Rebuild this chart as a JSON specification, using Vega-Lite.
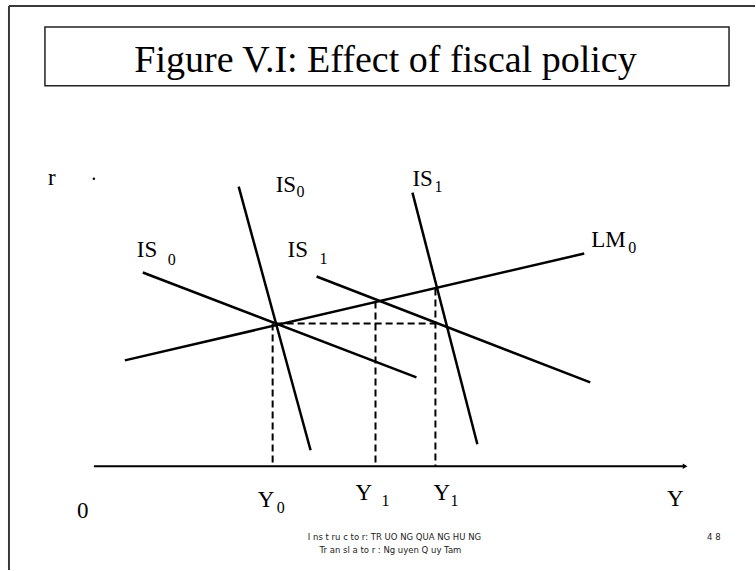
{
  "$schema": "https://vega.github.io/schema/vega-lite/v6.json",
  "width": 756,
  "height": 571,
  "autosize": {"type": "fit", "contains": "padding"},
  "padding": 0,
  "background": "white",
  "config": {"view": {"stroke": null}},
  "datasets": {
    "frame": [
      {"part": "top", "x": -86, "y": 461, "x2": 661, "y2": 461},
      {"part": "left", "x": -86, "y": 461, "x2": -86, "y2": -104}
    ],
    "titlebox": [{"x": -50, "y": 440, "x2": 635, "y2": 381}],
    "title": [{"text": "Figure V.I: Effect of fiscal policy", "x": 291, "y": 395}],
    "curves": [
      {"curve": "IS0 steep", "x": 144, "y": 280, "x2": 216, "y2": 16},
      {"curve": "IS1 steep", "x": 318, "y": 274, "x2": 383, "y2": 22},
      {"curve": "LM0", "x": 30, "y": 106, "x2": 490, "y2": 213},
      {"curve": "IS0 flat", "x": 48, "y": 194, "x2": 322, "y2": 89},
      {"curve": "IS1 flat", "x": 222, "y": 190, "x2": 496, "y2": 84}
    ],
    "guides": [
      {"guide": "r0", "x": 181, "y": 143, "x2": 342, "y2": 143},
      {"guide": "Y0", "x": 178, "y": 143, "x2": 178, "y2": 0},
      {"guide": "Y1a", "x": 281, "y": 165, "x2": 281, "y2": 0},
      {"guide": "Y1b", "x": 341, "y": 178, "x2": 341, "y2": 0}
    ],
    "axis": [{"x": -1, "y": 0, "x2": 590, "y2": 0}],
    "arrow": [{"x": 591, "y": 0}],
    "dot": [{"x": -1, "y": 288}],
    "labels": [
      {"text": "r", "x": -47, "y": 282},
      {"text": "IS", "x": 181, "y": 275},
      {"text": "IS", "x": 42, "y": 210},
      {"text": "IS", "x": 193, "y": 210},
      {"text": "IS", "x": 318, "y": 281},
      {"text": "LM", "x": 497, "y": 220},
      {"text": "Y", "x": 163, "y": -41},
      {"text": "Y", "x": 261, "y": -34},
      {"text": "Y", "x": 339, "y": -34},
      {"text": "Y", "x": 573, "y": -40},
      {"text": "0", "x": -18, "y": -52}
    ],
    "subs": [
      {"text": "0", "x": 202, "y": 270},
      {"text": "0", "x": 73, "y": 202},
      {"text": "1", "x": 225, "y": 203},
      {"text": "1", "x": 340, "y": 275},
      {"text": "0", "x": 534, "y": 214},
      {"text": "0", "x": 182, "y": -47},
      {"text": "1", "x": 287, "y": -40},
      {"text": "1", "x": 356, "y": -40}
    ],
    "footer": [
      {"text": "I ns t ru c to r: TR UO NG QUA NG HU NG", "x": 300, "y": -74},
      {"text": "Tr an sl a to r : Ng uyen Q uy Tam", "x": 296, "y": -87}
    ],
    "page": [{"text": "4 8", "x": 613, "y": -74}]
  },
  "encoding": {
    "x": {"field": "x", "type": "quantitative", "scale": {"domain": [-95, 661], "nice": false, "zero": false}, "axis": null},
    "y": {"field": "y", "type": "quantitative", "scale": {"domain": [-104, 467], "nice": false, "zero": false}, "axis": null}
  },
  "layer": [
    {"data": {"name": "frame"}, "mark": {"type": "rule", "stroke": "#3a3a3a", "strokeWidth": 2}, "encoding": {"x2": {"field": "x2"}, "y2": {"field": "y2"}}},
    {"data": {"name": "titlebox"}, "mark": {"type": "rect", "fill": "white", "stroke": "#222", "strokeWidth": 1.5}, "encoding": {"x2": {"field": "x2"}, "y2": {"field": "y2"}}},
    {"data": {"name": "title"}, "mark": {"type": "text", "font": "Liberation Serif", "fontSize": 38, "align": "center", "baseline": "alphabetic", "color": "black"}, "encoding": {"text": {"field": "text"}}},
    {"data": {"name": "guides"}, "mark": {"type": "rule", "stroke": "black", "strokeWidth": 2, "strokeDash": [7, 4]}, "encoding": {"x2": {"field": "x2"}, "y2": {"field": "y2"}}},
    {"data": {"name": "curves"}, "mark": {"type": "rule", "stroke": "black", "strokeWidth": 2.5}, "encoding": {"x2": {"field": "x2"}, "y2": {"field": "y2"}}},
    {"data": {"name": "axis"}, "mark": {"type": "rule", "stroke": "black", "strokeWidth": 2}, "encoding": {"x2": {"field": "x2"}, "y2": {"field": "y2"}}},
    {"data": {"name": "arrow"}, "mark": {"type": "point", "shape": "triangle-right", "filled": true, "color": "black", "size": 30, "opacity": 1}},
    {"data": {"name": "dot"}, "mark": {"type": "point", "shape": "circle", "filled": true, "color": "black", "size": 6, "opacity": 1}},
    {"data": {"name": "labels"}, "mark": {"type": "text", "font": "Liberation Serif", "fontSize": 23, "align": "left", "baseline": "alphabetic", "color": "black"}, "encoding": {"text": {"field": "text"}}},
    {"data": {"name": "subs"}, "mark": {"type": "text", "font": "Liberation Serif", "fontSize": 16, "align": "left", "baseline": "alphabetic", "color": "black"}, "encoding": {"text": {"field": "text"}}},
    {"data": {"name": "footer"}, "mark": {"type": "text", "font": "DejaVu Sans", "fontSize": 8.5, "align": "center", "baseline": "alphabetic", "color": "#222"}, "encoding": {"text": {"field": "text"}}},
    {"data": {"name": "page"}, "mark": {"type": "text", "font": "DejaVu Sans", "fontSize": 8.5, "align": "left", "baseline": "alphabetic", "color": "#222"}, "encoding": {"text": {"field": "text"}}}
  ]
}
